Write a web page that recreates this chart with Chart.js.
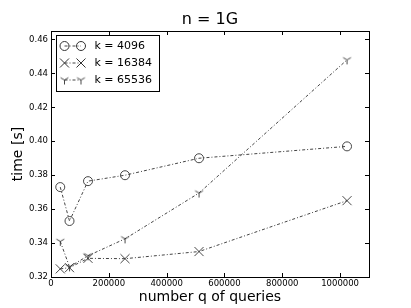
<!DOCTYPE html>
<html>
<head>
<meta charset="utf-8">
<script src="https://cdn.jsdelivr.net/npm/chart.js@4"></script>
<style>
  html, body { margin: 0; padding: 0; background: #fff; }
</style>
</head>
<body>
<canvas id="chart" width="411" height="308"></canvas>
<script>
const queries = [32000, 64000, 128000, 256000, 512000, 1024000];
const time4096 = [0.373, 0.353, 0.3765, 0.380, 0.390, 0.397];
const time16384 = [0.3248, 0.3255, 0.331, 0.3308, 0.335, 0.365];
const time65536 = [0.341, 0.326, 0.3325, 0.3425, 0.3695, 0.448];
const seriesLabels = ['k = 4096', 'k = 16384', 'k = 65536'];
const xTicks = [0, 200000, 400000, 600000, 800000, 1000000];
const yTicks = [0.32, 0.34, 0.36, 0.38, 0.40, 0.42, 0.44, 0.46];

const FONT = 'DejaVu Sans';
const INK = '#333';

// matplotlib "tri_down" marker
function triDown(size) {
  const c = document.createElement('canvas');
  c.width = c.height = Math.ceil(size * 2 + 4);
  const g = c.getContext('2d');
  const m = c.width / 2;
  g.strokeStyle = INK;
  g.lineWidth = 0.9;
  g.beginPath();
  g.moveTo(m, m); g.lineTo(m, m + size);
  g.moveTo(m, m); g.lineTo(m - size * 0.866, m - size * 0.5);
  g.moveTo(m, m); g.lineTo(m + size * 0.866, m - size * 0.5);
  g.stroke();
  return c;
}
const triMarker = triDown(4.5);

function series(label, values, style, radius) {
  return {
    label,
    data: queries.map((q, i) => ({ x: q, y: values[i] })),
    borderColor: '#444',
    borderWidth: 1,
    borderDash: [3, 2, 1, 2],
    pointStyle: style,
    pointRadius: radius,
    pointBorderColor: INK,
    pointBackgroundColor: 'rgba(0,0,0,0)',
    pointBorderWidth: 0.9,
    fill: false,
    tension: 0
  };
}

const datasets = [
  series(seriesLabels[0], time4096, 'circle', 4.5),
  series(seriesLabels[1], time16384, 'crossRot', 6.4),
  series(seriesLabels[2], time65536, triMarker, 4.5)
];

// frame, inward ticks on all sides, title and boxed legend
const decor = {
  id: 'decor',
  afterDraw(chart) {
    const { ctx, chartArea: a, scales } = chart;
    ctx.save();
    ctx.strokeStyle = '#000';
    ctx.lineWidth = 1;
    ctx.strokeRect(Math.round(a.left) + 0.5, Math.round(a.top) + 0.5,
      Math.round(a.right - a.left), Math.round(a.bottom - a.top));
    ctx.beginPath();
    const tl = 4;
    xTicks.forEach(v => {
      const x = Math.round(scales.x.getPixelForValue(v)) + 0.5;
      ctx.moveTo(x, a.bottom); ctx.lineTo(x, a.bottom - tl);
      ctx.moveTo(x, a.top); ctx.lineTo(x, a.top + tl);
    });
    yTicks.forEach(v => {
      const y = Math.round(scales.y.getPixelForValue(v)) + 0.5;
      ctx.moveTo(a.left, y); ctx.lineTo(a.left + tl, y);
      ctx.moveTo(a.right, y); ctx.lineTo(a.right - tl, y);
    });
    ctx.stroke();

    // title
    ctx.fillStyle = '#000';
    ctx.font = '16px "' + FONT + '"';
    ctx.textAlign = 'center';
    ctx.textBaseline = 'middle';
    ctx.fillText('n = 1G', (a.left + a.right) / 2, 20);

    // legend
    const lx = a.left + 5.5, ly = a.top + 4.5, lw = 103, lh = 56;
    ctx.fillStyle = '#fff';
    ctx.fillRect(lx, ly, lw, lh);
    ctx.strokeStyle = '#000';
    ctx.strokeRect(lx, ly, lw, lh);
    ctx.font = '11px "' + FONT + '"';
    ctx.textAlign = 'left';
    chart.data.datasets.forEach((ds, i) => {
      const y = ly + 10.5 + i * 17;
      const x1 = lx + 8, x2 = lx + 24.5;
      ctx.save();
      ctx.strokeStyle = ds.borderColor;
      ctx.lineWidth = 1;
      ctx.setLineDash(ds.borderDash);
      ctx.beginPath();
      ctx.moveTo(x1, y); ctx.lineTo(x2, y);
      ctx.stroke();
      ctx.restore();
      [x1, x2].forEach(x => {
        ctx.save();
        ctx.strokeStyle = ds.pointBorderColor;
        ctx.fillStyle = ds.pointBackgroundColor;
        Chart.helpers.drawPoint(ctx, {
          pointStyle: ds.pointStyle,
          radius: ds.pointRadius,
          borderWidth: ds.pointBorderWidth,
          rotation: 0
        }, x, y);
        ctx.restore();
      });
      ctx.fillStyle = '#000';
      ctx.fillText(ds.label, lx + 38, y + 0.5);
    });
    ctx.restore();
  }
};

new Chart(document.getElementById('chart'), {
  type: 'line',
  data: { datasets },
  options: {
    responsive: false,
    animation: false,
    devicePixelRatio: 1,
    layout: { padding: { left: 0, right: 42, top: 31, bottom: 0 } },
    plugins: {
      legend: { display: false },
      title: { display: false },
      tooltip: { enabled: false }
    },
    scales: {
      x: {
        type: 'linear',
        min: 0,
        max: 1100000,
        afterBuildTicks: s => { s.ticks = xTicks.map(v => ({ value: v })); },
        afterFit: s => { s.height = 31; },
        grid: { display: false, drawTicks: false },
        border: { display: false },
        ticks: {
          padding: 2,
          color: '#000',
          font: { family: FONT, size: 8.5 },
          maxRotation: 0,
          callback: v => String(v)
        },
        title: {
          display: true,
          text: 'number q of queries',
          color: '#000',
          font: { family: FONT, size: 14 },
          padding: { top: 2, bottom: 2 }
        }
      },
      y: {
        min: 0.32,
        max: 0.465,
        afterBuildTicks: s => { s.ticks = yTicks.map(v => ({ value: v })); },
        afterFit: s => { s.width = 51; },
        grid: { display: false, drawTicks: false },
        border: { display: false },
        ticks: {
          padding: 3,
          color: '#000',
          font: { family: FONT, size: 8.5 },
          callback: v => Number(v).toFixed(2)
        },
        title: {
          display: true,
          text: 'time [s]',
          color: '#000',
          font: { family: FONT, size: 14 },
          padding: { top: 10, bottom: 10 }
        }
      }
    }
  },
  plugins: [decor]
});
</script>
</body>
</html>
